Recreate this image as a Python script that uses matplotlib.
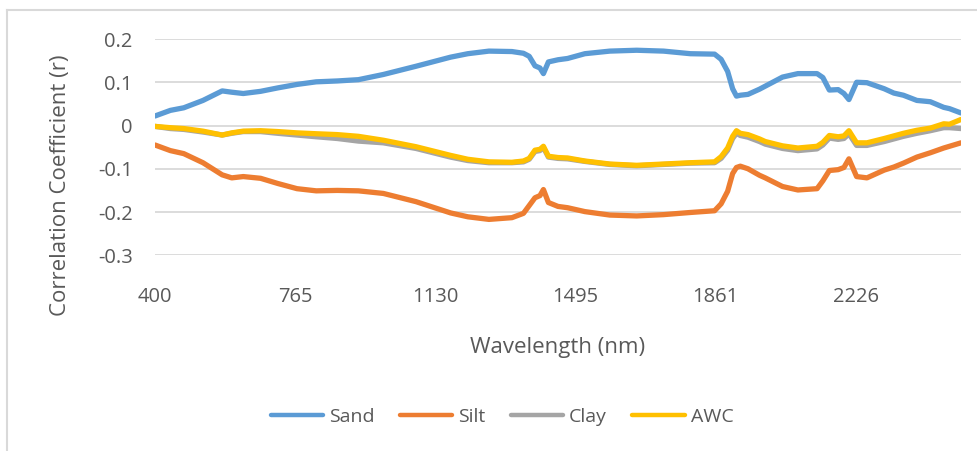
import matplotlib
matplotlib.use("Agg")
import matplotlib.pyplot as plt
from matplotlib.lines import Line2D

# wavelength (nm) and correlation coefficients
wavelength = [400, 440, 475, 525, 575, 600, 630, 675, 720, 770, 820, 875, 930, 995,
              1080, 1170, 1215, 1270, 1330, 1360, 1375, 1390, 1403, 1412, 1425, 1450,
              1475, 1520, 1585, 1655, 1725, 1795, 1858, 1875, 1892, 1905, 1915, 1925,
              1945, 1975, 1990, 2035, 2075, 2125, 2140, 2157, 2180, 2195, 2208, 2228,
              2255, 2300, 2325, 2350, 2385, 2420, 2455, 2470, 2500]

sand = [0.022, 0.035, 0.041, 0.058, 0.080, 0.077, 0.074, 0.079, 0.087, 0.095, 0.101,
        0.103, 0.106, 0.118, 0.137, 0.158, 0.166, 0.172, 0.171, 0.167, 0.160, 0.138,
        0.133, 0.120, 0.147, 0.152, 0.155, 0.166, 0.172, 0.174, 0.172, 0.166, 0.165,
        0.153, 0.125, 0.085, 0.068, 0.070, 0.072, 0.084, 0.091, 0.112, 0.120, 0.120,
        0.111, 0.082, 0.083, 0.074, 0.060, 0.100, 0.099, 0.085, 0.075, 0.070, 0.058,
        0.055, 0.042, 0.039, 0.029]

silt = [-0.045, -0.058, -0.065, -0.086, -0.114, -0.121, -0.118, -0.122, -0.134, -0.146,
        -0.151, -0.150, -0.151, -0.157, -0.176, -0.202, -0.211, -0.217, -0.213, -0.203,
        -0.185, -0.167, -0.162, -0.148, -0.178, -0.187, -0.190, -0.199, -0.207, -0.209,
        -0.206, -0.201, -0.197, -0.181, -0.152, -0.111, -0.097, -0.094, -0.100, -0.115,
        -0.121, -0.141, -0.149, -0.146, -0.128, -0.104, -0.102, -0.097, -0.077, -0.118,
        -0.121, -0.103, -0.096, -0.087, -0.073, -0.063, -0.052, -0.048, -0.040]

clay = [-0.002, -0.007, -0.009, -0.015, -0.022, -0.018, -0.014, -0.014, -0.018, -0.022,
        -0.026, -0.030, -0.036, -0.040, -0.053, -0.073, -0.081, -0.086, -0.086, -0.084,
        -0.078, -0.060, -0.058, -0.051, -0.073, -0.076, -0.077, -0.083, -0.090, -0.093,
        -0.090, -0.087, -0.086, -0.076, -0.057, -0.030, -0.018, -0.023, -0.027, -0.037,
        -0.043, -0.053, -0.058, -0.054, -0.045, -0.029, -0.032, -0.030, -0.019, -0.046,
        -0.046, -0.037, -0.031, -0.025, -0.018, -0.012, -0.005, -0.005, -0.007]

awc = [-0.002, -0.005, -0.007, -0.013, -0.022, -0.017, -0.013, -0.012, -0.014, -0.017,
       -0.019, -0.021, -0.025, -0.034, -0.049, -0.069, -0.078, -0.084, -0.085, -0.082,
       -0.076, -0.057, -0.055, -0.048, -0.071, -0.074, -0.075, -0.082, -0.089, -0.092,
       -0.089, -0.086, -0.084, -0.072, -0.052, -0.025, -0.012, -0.018, -0.021, -0.031,
       -0.037, -0.047, -0.052, -0.048, -0.039, -0.023, -0.026, -0.024, -0.012, -0.040,
       -0.040, -0.030, -0.024, -0.018, -0.011, -0.006, 0.004, 0.003, 0.014]

series_names = ["Sand", "Silt", "Clay", "AWC"]
colors = ["#5B9BD5", "#ED7D31", "#A5A5A5", "#FFC000"]

x_ticks = [400, 765, 1130, 1495, 1861, 2226]
x_labels = ["400", "765", "1130", "1495", "1861", "2226"]
y_ticks = [-0.3, -0.2, -0.1, 0, 0.1, 0.2]
y_labels = ["-0.3", "-0.2", "-0.1", "0", "0.1", "0.2"]

plt.rcParams["font.family"] = ["Open Sans", "DejaVu Sans"]
text_color = "#595959"

fig = plt.figure(figsize=(9.78, 4.51), dpi=100)
ax = fig.add_axes([155 / 978, 1 - 255.3 / 451, 806 / 978, 216.3 / 451])

for vals, name, c in zip([sand, silt, clay, awc], series_names, colors):
    ax.plot(wavelength, vals, color=c, lw=3.8, label=name, solid_capstyle="round",
            solid_joinstyle="round")

ax.set_xlim(400, 2500)
ax.set_ylim(-0.3, 0.2)
ax.set_yticks(y_ticks)
ax.set_yticklabels(y_labels)
ax.set_xticks(x_ticks)
ax.set_xticklabels(x_labels)
ax.grid(axis="y", color="#d9d9d9", lw=1.3)
ax.set_axisbelow(True)
for s in ax.spines.values():
    s.set_visible(False)
ax.tick_params(axis="both", length=0, labelsize=14.5, labelcolor=text_color)
ax.tick_params(axis="y", pad=16)
ax.tick_params(axis="x", pad=23)

ax.set_xlabel("Wavelength (nm)", fontsize=16, color=text_color)
ax.set_ylabel("Correlation Coefficient (r)", fontsize=16, color=text_color)
ax.xaxis.set_label_coords(0.5 - (155 + 403 - 558) / 806, -(347 - 255.3) / 216.3)
ax.xaxis.label.set_va("center")
ax.yaxis.set_label_coords(-(155 - 61) / 806, (255.3 - 185) / 216.3)
ax.yaxis.label.set_va("center")

handles = [Line2D([0], [0], color=c, lw=3.2, solid_capstyle="round") for c in colors]
leg = fig.legend(handles, series_names, loc="center", bbox_to_anchor=(502 / 978, 1 - 417 / 451),
                 ncol=4, frameon=False, fontsize=14, handlelength=2.7, handletextpad=0.3,
                 columnspacing=1.3)
for t in leg.get_texts():
    t.set_color(text_color)

# chart border
fig.add_artist(Line2D([7.5 / 978, 7.5 / 978], [0, 1 - 10 / 451], color="#d9d9d9", lw=1.5))
fig.add_artist(Line2D([7.5 / 978, 1], [1 - 10 / 451, 1 - 10 / 451], color="#d9d9d9", lw=1.5))

fig.savefig("out.png", dpi=100)
